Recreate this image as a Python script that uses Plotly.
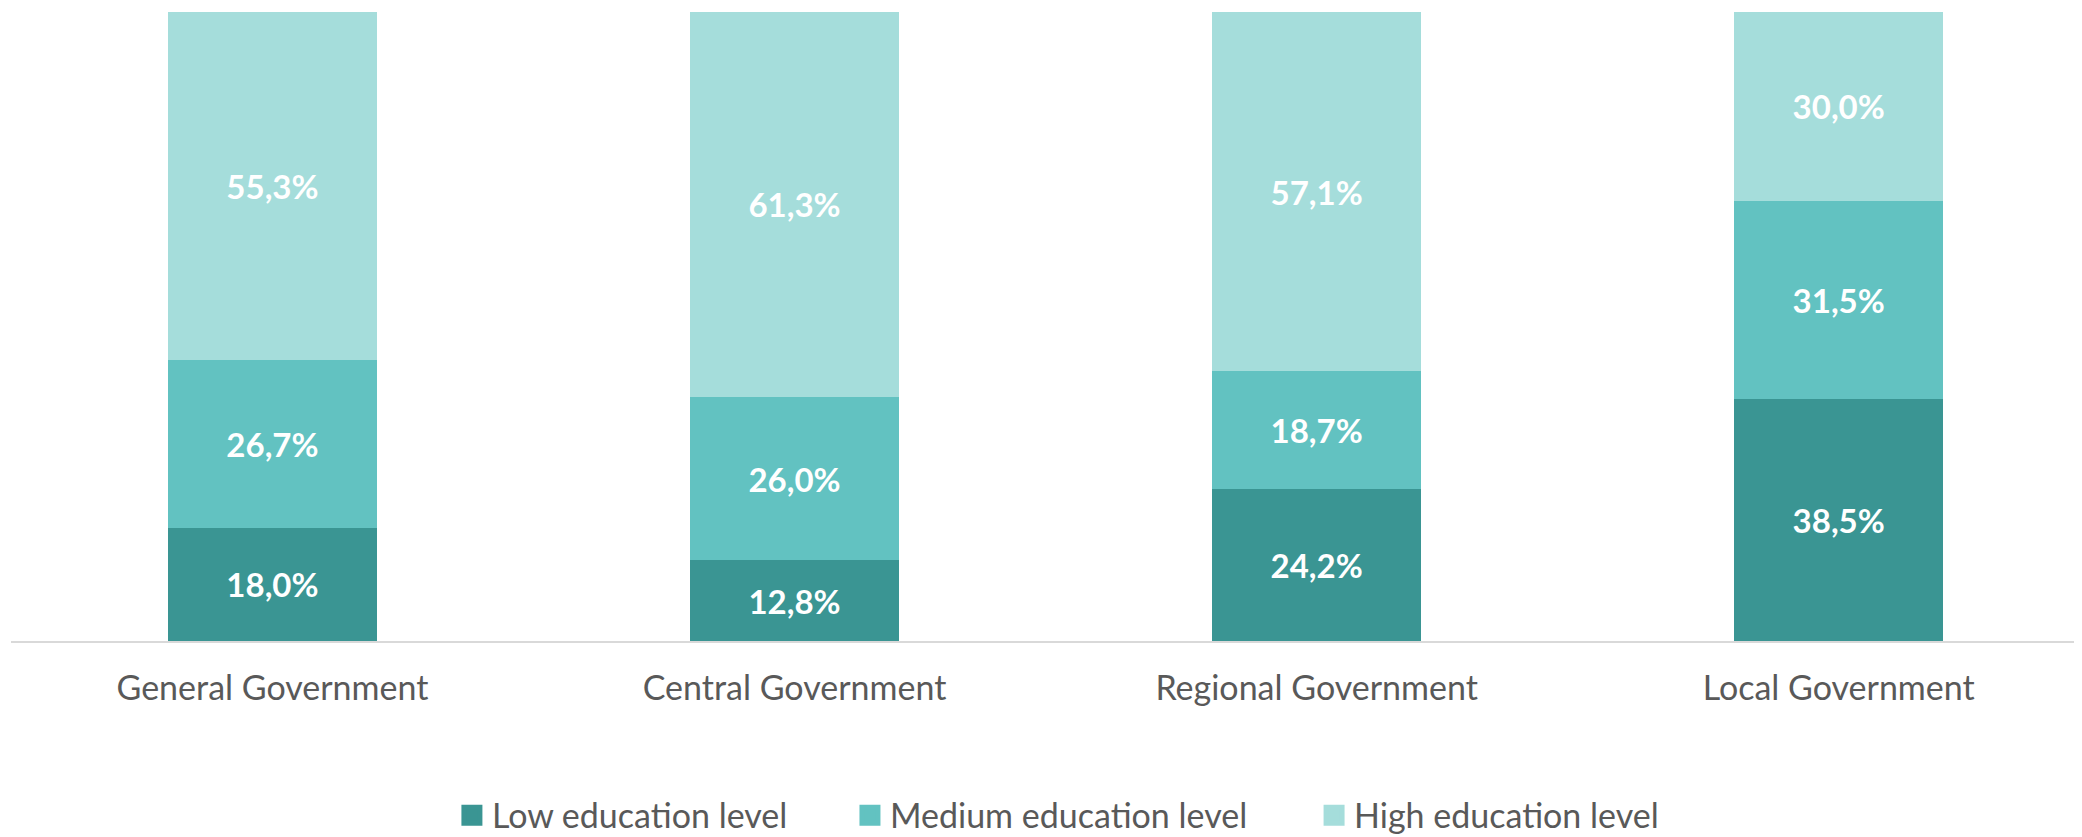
import plotly.graph_objects as go

categories = ["General Government", "Central Government", "Regional Government", "Local Government"]
low = [18.0, 12.8, 24.2, 38.5]
medium = [26.7, 26.0, 18.7, 31.5]
high = [55.3, 61.3, 57.1, 30.0]
series_names = ["Low education level", "Medium education level", "High education level"]
colors = ["#3A9593", "#62C2C1", "#A5DDDB"]

FONT = "Lato"
legend_ids = ["legend", "legend2", "legend3"]
legend_x = [0.2129, 0.4051, 0.6292]

fig = go.Figure()
for name, vals, col in zip(series_names, [low, medium, high], colors):
    fig.add_trace(go.Bar(
        x=categories, y=vals, name=name,
        marker=dict(color=col, line=dict(width=0)),
        width=0.4,
        texttemplate="%{y:.1f}%",
        textposition="inside",
        insidetextanchor="middle",
        textangle=0,
        textfont=dict(family=FONT, size=33, color="white", weight="bold"),
        showlegend=False,
        legendgroup=name,
    ))

# legend entries (square swatches) for each series
for name, col, lid in zip(series_names, colors, legend_ids):
    fig.add_trace(go.Scatter(
        x=[None], y=[None], mode="markers", name=name,
        marker=dict(symbol="square", size=16, color=col, line=dict(color=col, width=5)),
        legend=lid, legendgroup=name, hoverinfo="skip",
    ))

legend_common = dict(orientation="h", xanchor="left", y=-0.2775, yanchor="middle",
                     font=dict(family=FONT, size=34, color="#595959"),
                     itemwidth=30, bgcolor="rgba(0,0,0,0)", borderwidth=0)

fig.update_layout(
    barmode="stack",
    width=2074, height=829,
    margin=dict(l=3, r=0, t=4, b=196, autoexpand=False),
    paper_bgcolor="white", plot_bgcolor="white",
    separators=",.",
    showlegend=True,
    legend=dict(x=legend_x[0], **legend_common),
    legend2=dict(x=legend_x[1], **legend_common),
    legend3=dict(x=legend_x[2], **legend_common),
)
fig.update_xaxes(
    type="category", range=[-0.5008, 3.466],
    showline=True, linecolor="#D9D9D9", linewidth=2,
    showgrid=False, ticks="", ticklabelstandoff=16,
    tickfont=dict(family=FONT, size=34, color="#595959"),
)
fig.update_yaxes(range=[0, 100], visible=False, showgrid=False)

fig.write_html("out.html")
